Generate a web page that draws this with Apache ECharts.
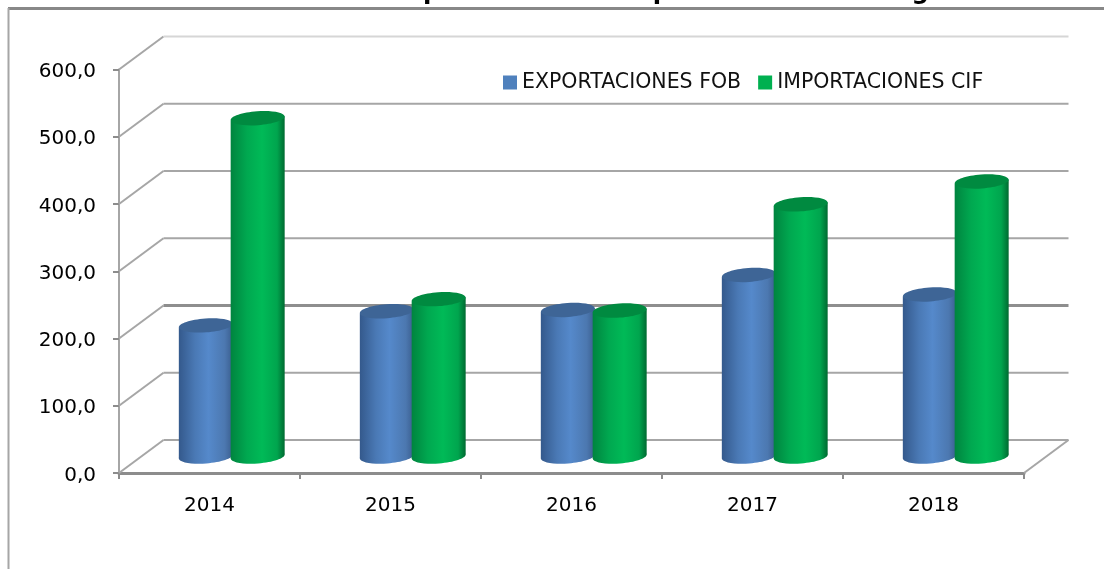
<!DOCTYPE html>
<html>
<head>
<meta charset="utf-8">
<script src="https://cdn.jsdelivr.net/npm/echarts@6/dist/echarts.min.js"></script>
</head>
<body style="margin:0;background:#fff">
<div id="main" style="width:1104px;height:569px;"></div>
<script type="text/javascript">
    let categories = ['2014', '2015', '2016', '2017', '2018'];
    let exportaciones = [195, 216, 218, 270, 241];
    let importaciones = [503, 234, 217, 375, 409];
    let ticks = [0, 100, 200, 300, 400, 500, 600];
    let tituloTexto = 'Gráfico 3. Evolución de las exportaciones e importaciones con Argentina';

    // profundidad de la caja 3D
    const depthX = 44.5, depthY = 33, barW = 54, ry = 7, tilt = 2;
    let font = '"DejaVu Sans"';

    function grad(stops) {
        return new echarts.graphic.LinearGradient(0, 0, 1, 0, stops.map(function (s) {
            return {offset: s[0], color: s[1]};
        }));
    }

    function cylinder(side, body, lid) {
        return function (params, api) {
            let top = api.coord([api.value(0), api.value(1)]);
            let base = api.coord([api.value(0), 0]);
            let cx = base[0] + depthX / 2 + side * barW * 0.48;
            let yb = base[1] - depthY / 2;
            let yt = top[1] - depthY / 2;
            let l = cx - barW / 2, r = cx + barW / 2;
            return {
                type: 'group',
                children: [
                    {type: 'ellipse', x: cx, y: yb, rotation: 0.07,
                        shape: {cx: 0, cy: 0, rx: barW / 2, ry: ry}, style: {fill: body}},
                    {type: 'polygon',
                        shape: {points: [[l, yt + tilt], [r, yt - tilt], [r, yb - tilt], [l, yb + tilt]]},
                        style: {fill: body}},
                    {type: 'ellipse', x: cx, y: yt, rotation: 0.07,
                        shape: {cx: 0, cy: 0, rx: barW / 2, ry: ry}, style: {fill: lid}}
                ]
            };
        };
    }

    function walls(params, api) {
        let v = api.value(1);
        let half = api.size([1, 0])[0] / 2;
        let front = api.coord([0, v]);
        let left = front[0] - half;
        let right = api.coord([categories.length - 1, v])[0] + half;
        let color = v === 600 ? '#d6d6d6' : (v === 200 ? '#8e8e8e' : '#a6a6a6');
        let kids = [
            {type: 'polyline', shape: {points: [[left, front[1]], [left + depthX, front[1] - depthY]]},
                style: {stroke: '#a6a6a6', lineWidth: 2, fill: null}},
            {type: 'polyline', shape: {points: [[left + depthX, front[1] - depthY], [right + depthX, front[1] - depthY]]},
                style: {stroke: color, lineWidth: v === 200 ? 3 : 2, fill: null}}
        ];
        if (v === 0) {
            kids.push({type: 'polyline', shape: {points: [[right, front[1]], [right + depthX, front[1] - depthY]]},
                style: {stroke: '#a6a6a6', lineWidth: 2, fill: null}});
        }
        return {type: 'group', children: kids};
    }

    let myChart = echarts.init(document.getElementById('main'));
    let option = {
        animation: false,
        backgroundColor: '#fff',
        title: {
            text: tituloTexto,
            left: 14,
            top: -24,
            textStyle: {fontFamily: font, fontSize: 24.4, fontWeight: 'bold', color: '#000'}
        },
        legend: {
            data: ['EXPORTACIONES FOB', 'IMPORTACIONES CIF'],
            left: 498,
            top: 67,
            icon: 'rect',
            itemWidth: 14,
            itemHeight: 14,
            itemGap: 17,
            textStyle: {fontFamily: font, fontSize: 20.5, color: '#111'}
        },
        grid: {left: 119, top: 69.5, width: 905, height: 403.5},
        xAxis: {
            type: 'category',
            data: categories,
            axisLine: {lineStyle: {color: '#8c8c8c', width: 3}},
            axisTick: {show: true, length: 6, lineStyle: {color: '#8c8c8c', width: 2}},
            axisLabel: {color: '#000', fontFamily: font, fontSize: 20, margin: 23}
        },
        yAxis: {
            type: 'value',
            min: 0,
            max: 600,
            interval: 100,
            axisLine: {show: true, lineStyle: {color: '#a6a6a6', width: 2}},
            axisTick: {show: true, length: 6, lineStyle: {color: '#8c8c8c', width: 2}},
            splitLine: {show: false},
            axisLabel: {
                color: '#000', fontFamily: font, fontSize: 20, margin: 23,
                verticalAlign: 'top', lineHeight: 5,
                formatter: function (v) { return v.toFixed(1).replace('.', ','); }
            }
        },
        graphic: [
            {type: 'line', shape: {x1: 8, y1: 8.5, x2: 1104, y2: 8.5}, style: {stroke: '#888', lineWidth: 3}},
            {type: 'line', shape: {x1: 8.5, y1: 8, x2: 8.5, y2: 569}, style: {stroke: '#a6a6a6', lineWidth: 2}}
        ],
        series: [
            {
                name: 'paredes',
                type: 'custom',
                z: 1,
                clip: false,
                silent: true,
                renderItem: walls,
                data: ticks.map(function (t) { return [0, t]; })
            },
            {
                name: 'EXPORTACIONES FOB',
                type: 'custom',
                z: 3,
                clip: false,
                itemStyle: {color: '#4f81bd'},
                renderItem: cylinder(-1, grad([[0, '#34598c'], [0.3, '#4a79b5'], [0.55, '#5589cb'], [0.85, '#4c78b0'], [1, '#3a5d8e']]), '#3e6596'),
                data: exportaciones.map(function (v, i) { return [i, v]; })
            },
            {
                name: 'IMPORTACIONES CIF',
                type: 'custom',
                z: 4,
                clip: false,
                itemStyle: {color: '#00b050'},
                renderItem: cylinder(1, grad([[0, '#00843f'], [0.3, '#00a850'], [0.58, '#00ba57'], [0.86, '#00a54e'], [1, '#006a31']]), '#008a40'),
                data: importaciones.map(function (v, i) { return [i, v]; })
            }
        ]
    };
    myChart.setOption(option);
</script>
</body>
</html>
